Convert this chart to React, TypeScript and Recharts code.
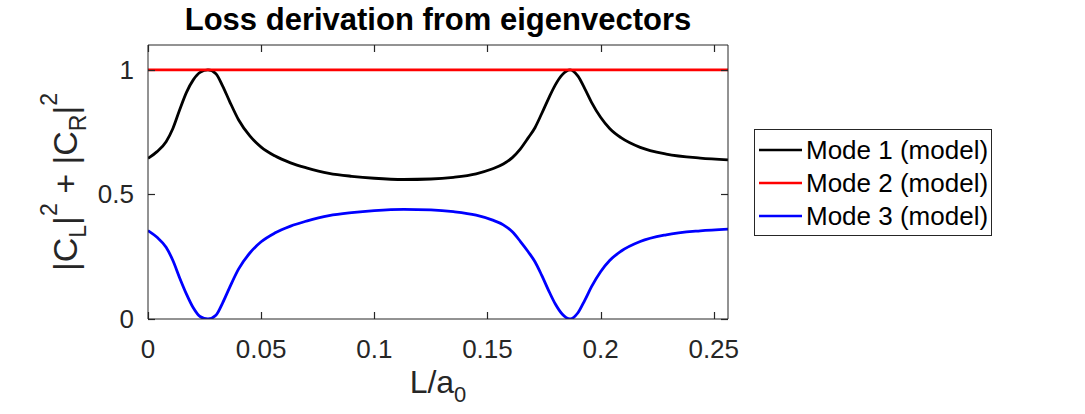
import { LineChart, Line, XAxis, YAxis, Legend, Label } from 'recharts'

// sample positions along L/a0 shared by modes 1 and 3
const L_GRID = [
  0, 0.004, 0.008, 0.011, 0.014, 0.017, 0.02, 0.023, 0.0265,
  0.03, 0.033, 0.036, 0.04, 0.045, 0.05, 0.056, 0.063, 0.07,
  0.08, 0.09, 0.1, 0.113, 0.125, 0.135, 0.145,
  0.152, 0.157, 0.161, 0.1645, 0.168, 0.171, 0.174, 0.177, 0.18, 0.183, 0.1865,
  0.19, 0.193, 0.196, 0.2, 0.204, 0.209, 0.2175, 0.229, 0.244, 0.2563,
]

const MODE1 = [
  0.645, 0.672, 0.712, 0.765, 0.84, 0.91, 0.96, 0.99, 1.0,
  0.985, 0.935, 0.875, 0.8, 0.735, 0.69, 0.655, 0.627, 0.607,
  0.585, 0.573, 0.565, 0.56, 0.562, 0.569, 0.583,
  0.602, 0.622, 0.648, 0.682, 0.727, 0.768, 0.825, 0.885, 0.94, 0.98, 1.0,
  0.975, 0.925, 0.87, 0.81, 0.765, 0.728, 0.689, 0.662, 0.646, 0.639,
]

const MODE3 = [
  0.355, 0.328, 0.288, 0.235, 0.165, 0.1, 0.045, 0.01, 0.0,
  0.015, 0.065, 0.125, 0.2, 0.265, 0.31, 0.345, 0.373, 0.393,
  0.415, 0.427, 0.435, 0.44, 0.438, 0.431, 0.417,
  0.398, 0.378, 0.35, 0.312, 0.27, 0.23, 0.175, 0.115, 0.06, 0.02, 0.0,
  0.025, 0.075, 0.13, 0.19, 0.235, 0.272, 0.311, 0.338, 0.354, 0.361,
]

// mode 2 stays flat across the whole range
const MODE2_L = [0, 0.2563]
const MODE2 = [1, 1]

const X_TICKS = [0, 0.05, 0.1, 0.15, 0.2, 0.25]
const Y_TICKS = [0, 0.5, 1]

const SERIES = [
  { key: 'mode1', name: 'Mode 1 (model)', color: '#000000' },
  { key: 'mode2', name: 'Mode 2 (model)', color: '#ff0000' },
  { key: 'mode3', name: 'Mode 3 (model)', color: '#0000ff' },
]

const rows = L_GRID.map((L, i) => ({ L, mode1: MODE1[i], mode3: MODE3[i] }))
const mode2Rows = MODE2_L.map((L, i) => ({ L, mode2: MODE2[i] }))

const FONT = '"Liberation Sans", Arial, Helvetica, sans-serif'
const AXIS = '#262626'

// plot box geometry
const W = 1085
const H = 414
const TOP = 45
const LEFT = 148
const RIGHT_MARGIN = 357
const X_AXIS_H = 95
const BOTTOM = H - X_AXIS_H
const RIGHT = W - RIGHT_MARGIN
const TICK_LEN = 7

// snap a 1px line onto the pixel grid
const px = (v: number) => Math.round(v) + 0.5

function BottomTick({ x, payload }: any) {
  return (
    <g>
      <line x1={px(x)} x2={px(x)} y1={BOTTOM} y2={BOTTOM - TICK_LEN} stroke={AXIS} strokeWidth={1.2} />
      <text x={x} y={BOTTOM + 39} textAnchor="middle" fontSize={26} fontFamily={FONT} fill={AXIS}>
        {payload.value}
      </text>
    </g>
  )
}

function LeftTick({ y, payload }: any) {
  return (
    <g>
      <line x1={LEFT} x2={LEFT + TICK_LEN} y1={px(y)} y2={px(y)} stroke={AXIS} strokeWidth={1.2} />
      <text x={LEFT - 14} y={y} textAnchor="end" dominantBaseline="central" fontSize={26} fontFamily={FONT} fill={AXIS}>
        {payload.value}
      </text>
    </g>
  )
}

function TopTick({ x }: any) {
  return <line x1={px(x)} x2={px(x)} y1={TOP} y2={TOP + TICK_LEN} stroke={AXIS} strokeWidth={1.2} />
}

function RightTick({ y }: any) {
  return <line x1={RIGHT} x2={RIGHT - TICK_LEN} y1={px(y)} y2={px(y)} stroke={AXIS} strokeWidth={1.2} />
}

function BoxLegend() {
  return (
    <svg width={239} height={108} style={{ display: 'block' }}>
      <rect x={0.5} y={0.5} width={237} height={106} fill="#fff" stroke={AXIS} />
      {SERIES.map((s, i) => (
        <g key={s.key}>
          <line x1={5} x2={48} y1={21 + i * 33} y2={21 + i * 33} stroke={s.color} strokeWidth={2.5} />
          <text x={52} y={21 + i * 33} dominantBaseline="central" fontSize={26} fontFamily={FONT} fill="#000">
            {s.name}
          </text>
        </g>
      ))}
    </svg>
  )
}

function TitleLabel() {
  return (
    <text x={(LEFT + RIGHT) / 2} y={TOP - 15} textAnchor="middle" fontSize={31} fontWeight="bold" fontFamily={FONT} fill="#000">
      Loss derivation from eigenvectors
    </text>
  )
}

function XTitle() {
  return (
    <text x={(LEFT + RIGHT) / 2} y={393} textAnchor="middle" fontSize={32} fontFamily={FONT} fill={AXIS}>
      L/a<tspan dy={9} fontSize={22}>0</tspan>
    </text>
  )
}

function YTitle() {
  const cx = 77
  const cy = (TOP + BOTTOM) / 2
  return (
    <text x={cx} y={cy} transform={`rotate(-90, ${cx}, ${cy})`} textAnchor="middle" fontSize={34} fontFamily={FONT} fill={AXIS}>
      |C<tspan dy={9} fontSize={23}>L</tspan>
      <tspan dy={-9}>|</tspan>
      <tspan dy={-20} fontSize={23}>2</tspan>
      <tspan dy={20}> + |C</tspan>
      <tspan dy={9} fontSize={23}>R</tspan>
      <tspan dy={-9}>|</tspan>
      <tspan dy={-20} fontSize={23}>2</tspan>
    </text>
  )
}

export default function App() {
  return (
    <div style={{ position: 'absolute', left: 0, top: 0, background: '#fff' }}>
      {/* the top and right axes take 1px so that they are drawn, closing the box */}
      <LineChart width={W} height={H} data={rows} margin={{ top: TOP - 1, right: RIGHT_MARGIN - 1, bottom: 0, left: 0 }}>
        <XAxis
          dataKey="L"
          type="number"
          domain={[0, 0.2563]}
          ticks={X_TICKS}
          allowDataOverflow
          height={X_AXIS_H}
          tickLine={false}
          tick={<BottomTick />}
          stroke={AXIS}
          interval={0}
        >
          <Label content={<XTitle />} />
        </XAxis>
        <XAxis
          xAxisId="top"
          orientation="top"
          dataKey="L"
          type="number"
          domain={[0, 0.2563]}
          ticks={X_TICKS}
          allowDataOverflow
          height={1}
          tickLine={false}
          tick={<TopTick />}
          stroke={AXIS}
          interval={0}
        >
          <Label content={<TitleLabel />} />
        </XAxis>
        <YAxis
          type="number"
          domain={[0, 1.1]}
          ticks={Y_TICKS}
          allowDataOverflow
          width={LEFT}
          tickLine={false}
          tick={<LeftTick />}
          stroke={AXIS}
          interval={0}
        >
          <Label content={<YTitle />} />
        </YAxis>
        <YAxis
          yAxisId="right"
          orientation="right"
          type="number"
          domain={[0, 1.1]}
          ticks={Y_TICKS}
          allowDataOverflow
          width={1}
          tickLine={false}
          tick={<RightTick />}
          stroke={AXIS}
          interval={0}
        />
        <Line dataKey="mode1" name="Mode 1 (model)" type="monotone" stroke="#000000" strokeWidth={2.8} dot={false} isAnimationActive={false} />
        <Line
          data={mode2Rows}
          xAxisId="top"
          yAxisId="right"
          dataKey="mode2"
          name="Mode 2 (model)"
          type="linear"
          stroke="#ff0000"
          strokeWidth={2.8}
          dot={false}
          isAnimationActive={false}
        />
        <Line dataKey="mode3" name="Mode 3 (model)" type="monotone" stroke="#0000ff" strokeWidth={2.8} dot={false} isAnimationActive={false} />
        <Legend
          layout="vertical"
          align="center"
          verticalAlign="middle"
          content={<BoxLegend />}
          wrapperStyle={{ left: 754, top: 129, width: 239, height: 108 }}
        />
      </LineChart>
    </div>
  )
}
